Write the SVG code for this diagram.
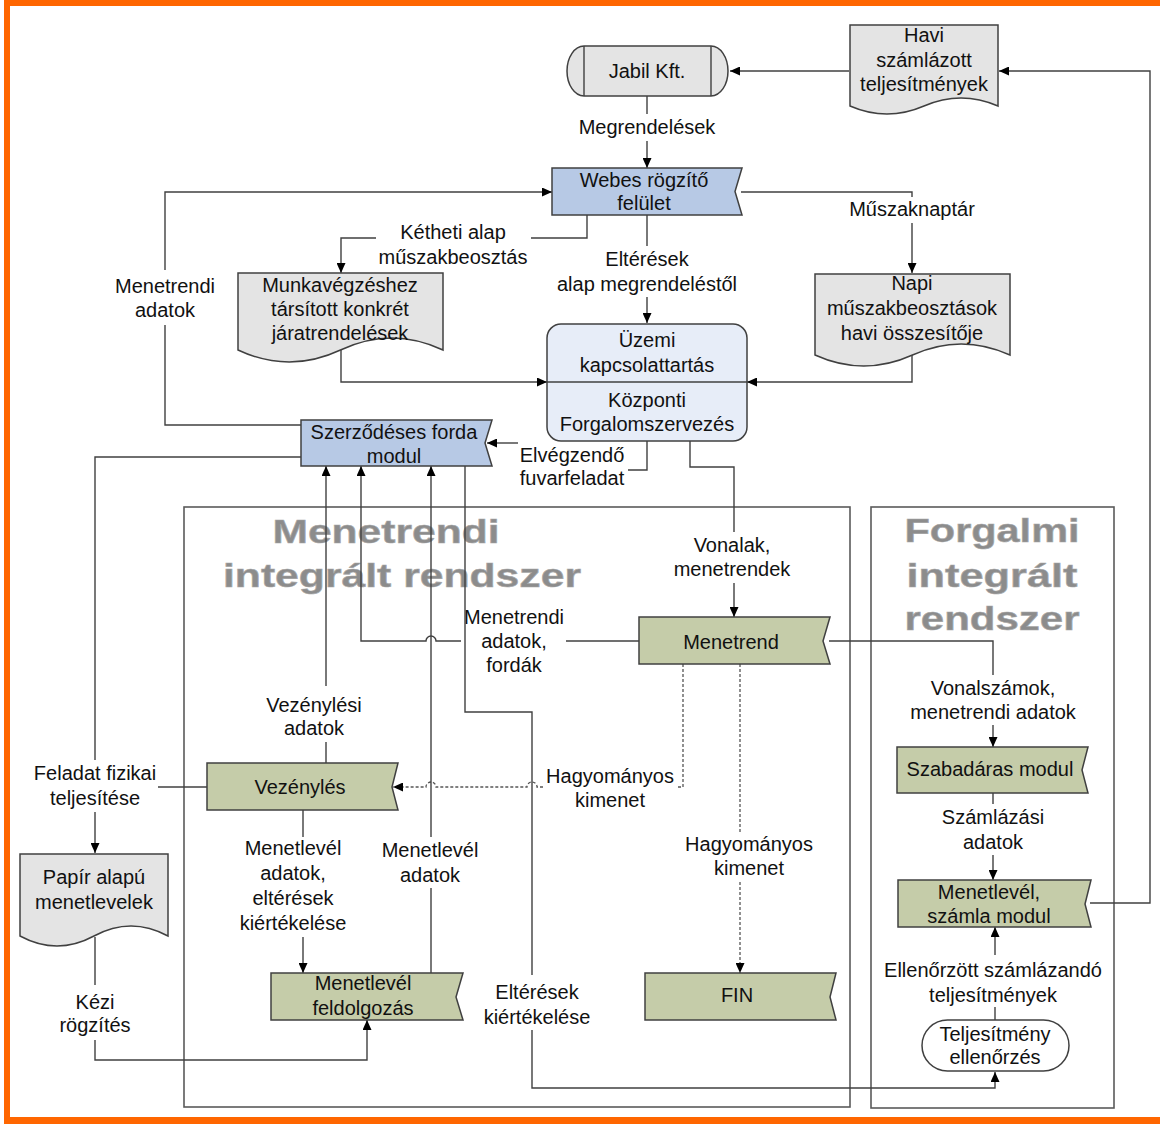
<svg xmlns="http://www.w3.org/2000/svg" width="1160" height="1124" viewBox="0 0 1160 1124">
  <defs>
    <style>
      .t { font-family: "Liberation Sans", Arial, sans-serif; font-size: 20px; fill: #111; text-anchor: middle; }
      .title { font-family: "Liberation Sans", Arial, sans-serif; font-size: 33px; font-weight: bold; fill: #8c8c8c; stroke: #a8a8a8; stroke-width: 0.6; text-anchor: middle; }
      .ln { fill: none; stroke: #404040; stroke-width: 1.4; }
      .dash { fill: none; stroke: #555; stroke-width: 1.3; stroke-dasharray: 3 2; }
      .box { fill: none; stroke: #5a5a5a; stroke-width: 1.6; }
      .shape { stroke: #404040; stroke-width: 1.5; }
      .blue { fill: #b7c9e5; }
      .green { fill: #c5cca9; }
      .grey { fill: #e4e4e4; }
      .pale { fill: #e7edf8; }
      .white { fill: #ffffff; }
    </style>
    <marker id="arr" viewBox="0 0 10 9" refX="10" refY="4.5" markerWidth="10" markerHeight="9" markerUnits="userSpaceOnUse" orient="auto">
      <path d="M0,0 L10,4.5 L0,9 Z" fill="#000"/>
    </marker>
  </defs>

  <rect width="1160" height="1124" fill="#ffffff"/>

  <!-- orange page frame -->
  <g id="frame" fill="#ff6600">
    <rect x="4" y="0" width="6" height="1124"/>
    <rect x="4" y="0" width="1156" height="6"/>
    <rect x="4" y="1117" width="1156" height="7"/>
  </g>

  <!-- system containers -->
  <g id="menetrendi-rendszer">
    <rect class="box" x="184" y="507" width="666" height="600"/>
    <text class="title" x="386" y="543" textLength="227" lengthAdjust="spacingAndGlyphs">Menetrendi</text>
    <text class="title" x="402" y="587" textLength="358" lengthAdjust="spacingAndGlyphs">integrált rendszer</text>
  </g>
  <g id="forgalmi-rendszer">
    <rect class="box" x="871" y="507" width="243" height="601"/>
    <text class="title" x="992" y="542" textLength="175" lengthAdjust="spacingAndGlyphs">Forgalmi</text>
    <text class="title" x="992" y="587" textLength="171" lengthAdjust="spacingAndGlyphs">integrált</text>
    <text class="title" x="992" y="630" textLength="175" lengthAdjust="spacingAndGlyphs">rendszer</text>
  </g>

  <!-- connectors and their labels -->
  <g id="connectors">
    <path class="ln" d="M849,71 H730" marker-end="url(#arr)"/>
    <path class="ln" d="M1090,903 H1150 V71 H999" marker-end="url(#arr)"/>

    <path class="ln" d="M647,96 V114"/>
    <path class="ln" d="M647,141 V168" marker-end="url(#arr)"/>
    <text class="t" x="647" y="134">Megrendelések</text>

    <path class="ln" d="M301,425 H165 V325"/>
    <path class="ln" d="M165,270 V192 H552" marker-end="url(#arr)"/>
    <text class="t" x="165" y="293">Menetrendi</text>
    <text class="t" x="165" y="317">adatok</text>

    <path class="ln" d="M587,215 V238 H531"/>
    <path class="ln" d="M376,238 H341 V273" marker-end="url(#arr)"/>
    <text class="t" x="453" y="239">Kétheti alap</text>
    <text class="t" x="453" y="264">műszakbeosztás</text>

    <path class="ln" d="M647,215 V246"/>
    <path class="ln" d="M647,297 V323" marker-end="url(#arr)"/>
    <text class="t" x="647" y="266">Eltérések</text>
    <text class="t" x="647" y="291">alap megrendeléstől</text>

    <path class="ln" d="M741,192 H912 V197"/>
    <path class="ln" d="M912,223 V273" marker-end="url(#arr)"/>
    <text class="t" x="912" y="216">Műszaknaptár</text>

    <path class="ln" d="M341,350 V382 H547" marker-end="url(#arr)"/>
    <path class="ln" d="M912,355 V382 H747" marker-end="url(#arr)"/>

    <path class="ln" d="M647,441 V470 H628"/>
    <path class="ln" d="M518,443 H487" marker-end="url(#arr)"/>
    <text class="t" x="572" y="462">Elvégzendő</text>
    <text class="t" x="572" y="485">fuvarfeladat</text>

    <path class="ln" d="M690,441 V467 H734 V532"/>
    <path class="ln" d="M734,583 V617" marker-end="url(#arr)"/>
    <text class="t" x="732" y="552">Vonalak,</text>
    <text class="t" x="732" y="576">menetrendek</text>

    <path class="ln" d="M639,641 H566"/>
    <path class="ln" d="M461,641 H436 A5,5 0 0 0 426,641 H361 V466" marker-end="url(#arr)"/>
    <text class="t" x="514" y="624">Menetrendi</text>
    <text class="t" x="514" y="648">adatok,</text>
    <text class="t" x="514" y="672">fordák</text>

    <path class="ln" d="M465,466 V712 H532 V975"/>
    <path class="ln" d="M532,1030 V1088 H995 V1072" marker-end="url(#arr)"/>
    <text class="t" x="537" y="999">Eltérések</text>
    <text class="t" x="537" y="1024">kiértékelése</text>

    <path class="dash" d="M683,664 V787 H677"/>
    <path class="dash" d="M543,787 H537 A5,5 0 0 0 527,787 H436 A5,5 0 0 0 426,787 H393" marker-end="url(#arr)"/>
    <text class="t" x="610" y="783">Hagyományos</text>
    <text class="t" x="610" y="807">kimenet</text>

    <path class="dash" d="M740,664 V834"/>
    <path class="dash" d="M740,882 V973" marker-end="url(#arr)"/>
    <text class="t" x="749" y="851">Hagyományos</text>
    <text class="t" x="749" y="875">kimenet</text>

    <path class="ln" d="M301,457 H95 V760"/>
    <path class="ln" d="M95,812 V853" marker-end="url(#arr)"/>
    <path class="ln" d="M207,787 H158"/>
    <text class="t" x="95" y="780">Feladat fizikai</text>
    <text class="t" x="95" y="805">teljesítése</text>

    <path class="ln" d="M326,763 V742"/>
    <path class="ln" d="M326,686 V466" marker-end="url(#arr)"/>
    <text class="t" x="314" y="712">Vezénylési</text>
    <text class="t" x="314" y="735">adatok</text>

    <path class="ln" d="M303,810 V837"/>
    <path class="ln" d="M303,937 V973" marker-end="url(#arr)"/>
    <text class="t" x="293" y="855">Menetlevél</text>
    <text class="t" x="293" y="880">adatok,</text>
    <text class="t" x="293" y="905">eltérések</text>
    <text class="t" x="293" y="930">kiértékelése</text>

    <path class="ln" d="M431,973 V888"/>
    <path class="ln" d="M431,837 V466" marker-end="url(#arr)"/>
    <text class="t" x="430" y="857">Menetlevél</text>
    <text class="t" x="430" y="882">adatok</text>

    <path class="ln" d="M95,937 V985"/>
    <path class="ln" d="M95,1040 V1060 H367 V1020" marker-end="url(#arr)"/>
    <text class="t" x="95" y="1009">Kézi</text>
    <text class="t" x="95" y="1032">rögzítés</text>

    <path class="ln" d="M829,641 H993 V675"/>
    <path class="ln" d="M993,725 V747" marker-end="url(#arr)"/>
    <text class="t" x="993" y="695">Vonalszámok,</text>
    <text class="t" x="993" y="719">menetrendi adatok</text>

    <path class="ln" d="M993,793 V804"/>
    <path class="ln" d="M993,855 V880" marker-end="url(#arr)"/>
    <text class="t" x="993" y="824">Számlázási</text>
    <text class="t" x="993" y="849">adatok</text>

    <path class="ln" d="M995,1020 V1007"/>
    <path class="ln" d="M995,955 V927" marker-end="url(#arr)"/>
    <text class="t" x="993" y="977">Ellenőrzött számlázandó</text>
    <text class="t" x="993" y="1002">teljesítmények</text>
  </g>

  <!-- nodes -->
  <g id="jabil">
    <path class="shape grey" d="M584,46 H711 A17,25 0 0 1 711,96 H584 A17,25 0 0 1 584,46 Z"/>
    <path class="ln" d="M584,46 V96 M711,46 V96"/>
    <text class="t" x="647" y="78">Jabil Kft.</text>
  </g>

  <g id="havi">
    <path class="shape grey" d="M850,25 H998 V106 Q961,90 924,106 T850,106 Z"/>
    <text class="t" x="924" y="42">Havi</text>
    <text class="t" x="924" y="67">számlázott</text>
    <text class="t" x="924" y="91">teljesítmények</text>
  </g>

  <g id="webes">
    <polygon class="shape blue" points="552,168 742,168 735,191.5 742,215 552,215"/>
    <text class="t" x="644" y="187">Webes rögzítő</text>
    <text class="t" x="644" y="210">felület</text>
  </g>

  <g id="munkavegzes">
    <path class="shape grey" d="M238,273 H443 V350 Q391.75,326 340.5,350 T238,350 Z"/>
    <text class="t" x="340" y="292">Munkavégzéshez</text>
    <text class="t" x="340" y="316">társított konkrét</text>
    <text class="t" x="340" y="340">járatrendelések</text>
  </g>

  <g id="napi">
    <path class="shape grey" d="M815,274 H1010 V355 Q961.25,333 912.5,355 T815,355 Z"/>
    <text class="t" x="912" y="290">Napi</text>
    <text class="t" x="912" y="315">műszakbeosztások</text>
    <text class="t" x="912" y="340">havi összesítője</text>
  </g>

  <g id="uzemi">
    <rect class="shape pale" x="547" y="324" width="200" height="117" rx="14"/>
    <path class="ln" d="M547,382 H747"/>
    <text class="t" x="647" y="347">Üzemi</text>
    <text class="t" x="647" y="372">kapcsolattartás</text>
    <text class="t" x="647" y="407">Központi</text>
    <text class="t" x="647" y="431">Forgalomszervezés</text>
  </g>

  <g id="szerzodeses">
    <polygon class="shape blue" points="301,420 492,420 485,443 492,466 301,466"/>
    <text class="t" x="394" y="439">Szerződéses forda</text>
    <text class="t" x="394" y="463">modul</text>
  </g>

  <g id="menetrend">
    <polygon class="shape green" points="639,617 830,617 823,641 830,664 639,664"/>
    <text class="t" x="731" y="649">Menetrend</text>
  </g>

  <g id="vezenyles">
    <polygon class="shape green" points="207,763 398,763 392,787 398,810 207,810"/>
    <text class="t" x="300" y="794">Vezénylés</text>
  </g>

  <g id="papir">
    <path class="shape grey" d="M20,854 H168 V936 Q131,916 94,936 T20,936 Z"/>
    <text class="t" x="94" y="884">Papír alapú</text>
    <text class="t" x="94" y="909">menetlevelek</text>
  </g>

  <g id="menetlevel-feldolgozas">
    <polygon class="shape green" points="271,973 463,973 456,997 463,1020 271,1020"/>
    <text class="t" x="363" y="990">Menetlevél</text>
    <text class="t" x="363" y="1015">feldolgozás</text>
  </g>

  <g id="fin">
    <polygon class="shape green" points="645,973 836,973 830,997 836,1020 645,1020"/>
    <text class="t" x="737" y="1002">FIN</text>
  </g>

  <g id="szabadaras">
    <polygon class="shape green" points="897,747 1088,747 1082,770 1088,793 897,793"/>
    <text class="t" x="990" y="776">Szabadáras modul</text>
  </g>

  <g id="menetlevel-szamla">
    <polygon class="shape green" points="898,880 1091,880 1085,904 1091,927 898,927"/>
    <text class="t" x="989" y="899">Menetlevél,</text>
    <text class="t" x="989" y="923">számla modul</text>
  </g>

  <g id="teljesitmeny">
    <rect class="shape white" x="922" y="1020" width="147" height="51" rx="25.5"/>
    <text class="t" x="995" y="1041">Teljesítmény</text>
    <text class="t" x="995" y="1064">ellenőrzés</text>
  </g>
</svg>
